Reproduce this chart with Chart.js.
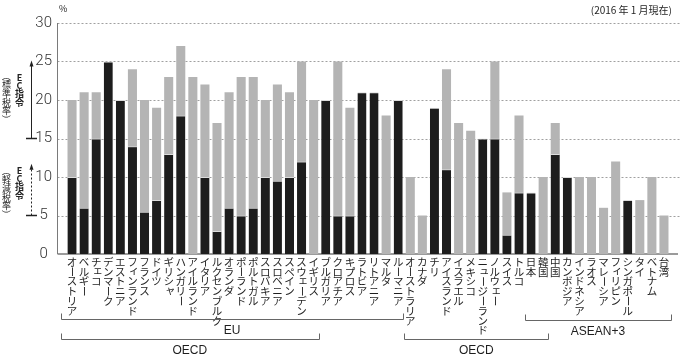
<!DOCTYPE html>
<html>
<head>
<meta charset="utf-8">
<script src="https://cdn.jsdelivr.net/npm/chart.js@4"></script>
<style>
html,body{margin:0;padding:0;background:#fff;}
#wrap{width:680px;height:358px;position:relative;}
</style>
</head>
<body>
<div id="wrap"><canvas id="c" width="680" height="358"></canvas></div>
<script>
const countries = ["オーストリア","ベルギー","チェコ","デンマーク","エストニア","フィンランド","フランス","ドイツ","ギリシャ","ハンガリー","アイルランド","イタリア","ルクセンブルク","オランダ","ポーランド","ポルトガル","スロバキア","スロベニア","スペイン","スウェーデン","イギリス","ブルガリア","クロアチア","キプロス","ラトビア","リトアニア","マルタ","ルーマニア","オーストラリア","カナダ","チリ","アイスランド","イスラエル","メキシコ","ニュージーランド","ノルウェー","スイス","トルコ","日本","韓国","中国","カンボジア","インドネシア","ラオス","マレーシア","フィリピン","シンガポール","タイ","ベトナム","台湾"];
const standardRate = [20,21,21,null,null,24,20,19,23,27,23,22,17,21,23,23,20,22,21,25,20,null,25,19,null,null,18,null,10,5,null,24,17,16,null,25,8,18,null,10,17,null,10,10,6,12,null,7,10,5];
const reducedRate = [10,6,15,25,20,14,5.5,7,13,18,null,10,3,6,5,6,10,9.5,10,12,null,20,5,5,21,21,null,20,null,null,19,11,null,null,15,15,2.5,8,8,null,13,10,null,null,null,null,7,null,null,null];
const yTicks = [0,5,10,15,20,25,30];
const groups = [
  {label:"EU", from:0, to:27, level:0},
  {label:"OECD", from:0, to:20, level:1},
  {label:"OECD", from:28, to:39, level:1},
  {label:"ASEAN+3", from:38, to:49, level:0}
];
const unitLabel = "%";
const dateNote = "(2016 年 1 月現在)";
const ecStd = ["EC指令","（標準税率）"];
const ecRed = ["EC指令","（軽減税率）"];

const JP = '"Noto Sans CJK JP", "Noto Sans", sans-serif';
const rotChars = "ー（）()";
const smallKana = "ァィゥェォッャュョ";

function drawVertical(ctx, text, cx, top, step, font) {
  ctx.font = font;
  ctx.textAlign = 'center';
  ctx.textBaseline = 'middle';
  for (let j = 0; j < text.length; j++) {
    const ch = text[j];
    const cy = top + step / 2 + j * step;
    if (rotChars.indexOf(ch) >= 0) {
      ctx.save();
      ctx.translate(cx, cy);
      ctx.rotate(Math.PI / 2);
      ctx.fillText(ch, 0, 0);
      ctx.restore();
    } else if (smallKana.indexOf(ch) >= 0) {
      ctx.fillText(ch, cx + 1.5, cy - 1.5);
    } else {
      ctx.fillText(ch, cx, cy);
    }
  }
}

const deco = {
  id: 'deco',
  beforeDatasetsDraw(chart) {
    const ctx = chart.ctx, y = chart.scales.y, area = chart.chartArea;
    const axisX = area.left - 8.5;
    ctx.save();
    ctx.strokeStyle = '#a0a0a0';
    ctx.lineWidth = 1;
    ctx.setLineDash([2, 2]);
    yTicks.forEach(v => {
      if (v === 0) return;
      const py = Math.round(y.getPixelForValue(v)) + 0.5;
      ctx.beginPath(); ctx.moveTo(axisX, py); ctx.lineTo(680, py); ctx.stroke();
    });
    ctx.setLineDash([]);
    ctx.strokeStyle = '#7a7a7a';
    ctx.beginPath();
    ctx.moveTo(axisX, y.getPixelForValue(30));
    ctx.lineTo(axisX, y.getPixelForValue(0));
    ctx.stroke();
    ctx.lineWidth = 1.5;
    const by = y.getPixelForValue(0);
    ctx.beginPath(); ctx.moveTo(axisX, by); ctx.lineTo(678, by); ctx.stroke();
    ctx.restore();
  },
  afterDraw(chart) {
    const ctx = chart.ctx, x = chart.scales.x, y = chart.scales.y;
    ctx.save();
    ctx.fillStyle = '#1e1e1e';
    countries.forEach((name, i) => {
      drawVertical(ctx, name, x.getPixelForValue(i), 257, 9.8, '10.5px ' + JP);
    });
    ctx.font = '9px ' + JP;
    ctx.textAlign = 'left'; ctx.textBaseline = 'middle';
    ctx.fillText(unitLabel, 59, 9);
    ctx.font = '10px ' + JP;
    ctx.textAlign = 'right';
    ctx.fillText(dateNote, 672, 10);
    ctx.strokeStyle = '#666';
    ctx.lineWidth = 1;
    groups.forEach(g => {
      const x0 = x.getPixelForValue(g.from) - (g.from === 0 ? 11 : 6);
      const x1 = x.getPixelForValue(g.to) + (g.to === 49 ? 7 : 5);
      const by = g.level === 0 ? (g.label === 'EU' ? 319.5 : 320.5) : 339.5;
      ctx.beginPath();
      ctx.moveTo(Math.round(x0) + 0.5, by - 6);
      ctx.lineTo(Math.round(x0) + 0.5, by);
      ctx.lineTo(Math.round(x1) + 0.5, by);
      ctx.lineTo(Math.round(x1) + 0.5, by - 6);
      ctx.stroke();
      ctx.font = '12px "Liberation Sans", Arial, sans-serif';
      ctx.textAlign = 'center'; ctx.textBaseline = 'middle';
      ctx.fillStyle = '#1e1e1e';
      ctx.fillText(g.label, (x0 + x1) / 2, by + 11);
    });
    const ax = 31.5;
    ctx.strokeStyle = '#222'; ctx.fillStyle = '#222';
    function arrow(v0, v1, dashed) {
      const p0 = y.getPixelForValue(v0), p1 = y.getPixelForValue(v1);
      ctx.lineWidth = 1;
      ctx.setLineDash(dashed ? [2, 2] : []);
      ctx.beginPath(); ctx.moveTo(ax, p0); ctx.lineTo(ax, p1 + 4); ctx.stroke();
      ctx.setLineDash([]);
      ctx.beginPath(); ctx.moveTo(ax - 2, p1 + 5); ctx.lineTo(ax + 2, p1 + 5); ctx.lineTo(ax, p1 - 1); ctx.closePath(); ctx.fill();
      ctx.lineWidth = 1.5;
      ctx.beginPath(); ctx.moveTo(26, p0); ctx.lineTo(37, p0); ctx.stroke();
    }
    arrow(15, 25, false);
    arrow(5, 11.6, true);
    drawVertical(ctx, ecStd[0], 19.5, 73, 8.4, 'bold 9px ' + JP);
    drawVertical(ctx, ecStd[1], 6.5, 72, 8.6, '9px ' + JP);
    drawVertical(ctx, ecRed[0], 19.5, 166, 8.4, 'bold 9px ' + JP);
    drawVertical(ctx, ecRed[1], 6.5, 167, 8.6, '9px ' + JP);
    ctx.restore();
  }
};

new Chart(document.getElementById('c'), {
  type: 'bar',
  data: {
    labels: countries,
    datasets: [
      {label: '軽減税率', data: reducedRate, backgroundColor: '#1d1d1d', borderColor: '#dcdcdc', borderWidth: {top: 1, left: 0, right: 0, bottom: 0}, grouped: false, barPercentage: 0.75, categoryPercentage: 1},
      {label: '標準税率', data: standardRate, backgroundColor: '#b4b4b4', borderWidth: 0, grouped: false, barPercentage: 0.75, categoryPercentage: 1}
    ]
  },
  options: {
    responsive: false,
    devicePixelRatio: 1,
    animation: false,
    layout: {padding: {left: 0, top: 17, right: 10, bottom: 104}},
    plugins: {legend: {display: false}, tooltip: {enabled: false}},
    scales: {
      x: {display: false},
      y: {
        min: 0, max: 30,
        afterBuildTicks(s) { s.ticks = yTicks.map(v => ({value: v})); },
        afterFit(s) { s.width = 66; },
        grid: {display: false, drawTicks: false, tickLength: 0},
        border: {display: false},
        ticks: {
          padding: 14, crossAlign: 'center', color: '#333',
          font: {family: 'Roboto', weight: 300, size: 15}
        }
      }
    }
  },
  plugins: [deco]
});
</script>
</body>
</html>
